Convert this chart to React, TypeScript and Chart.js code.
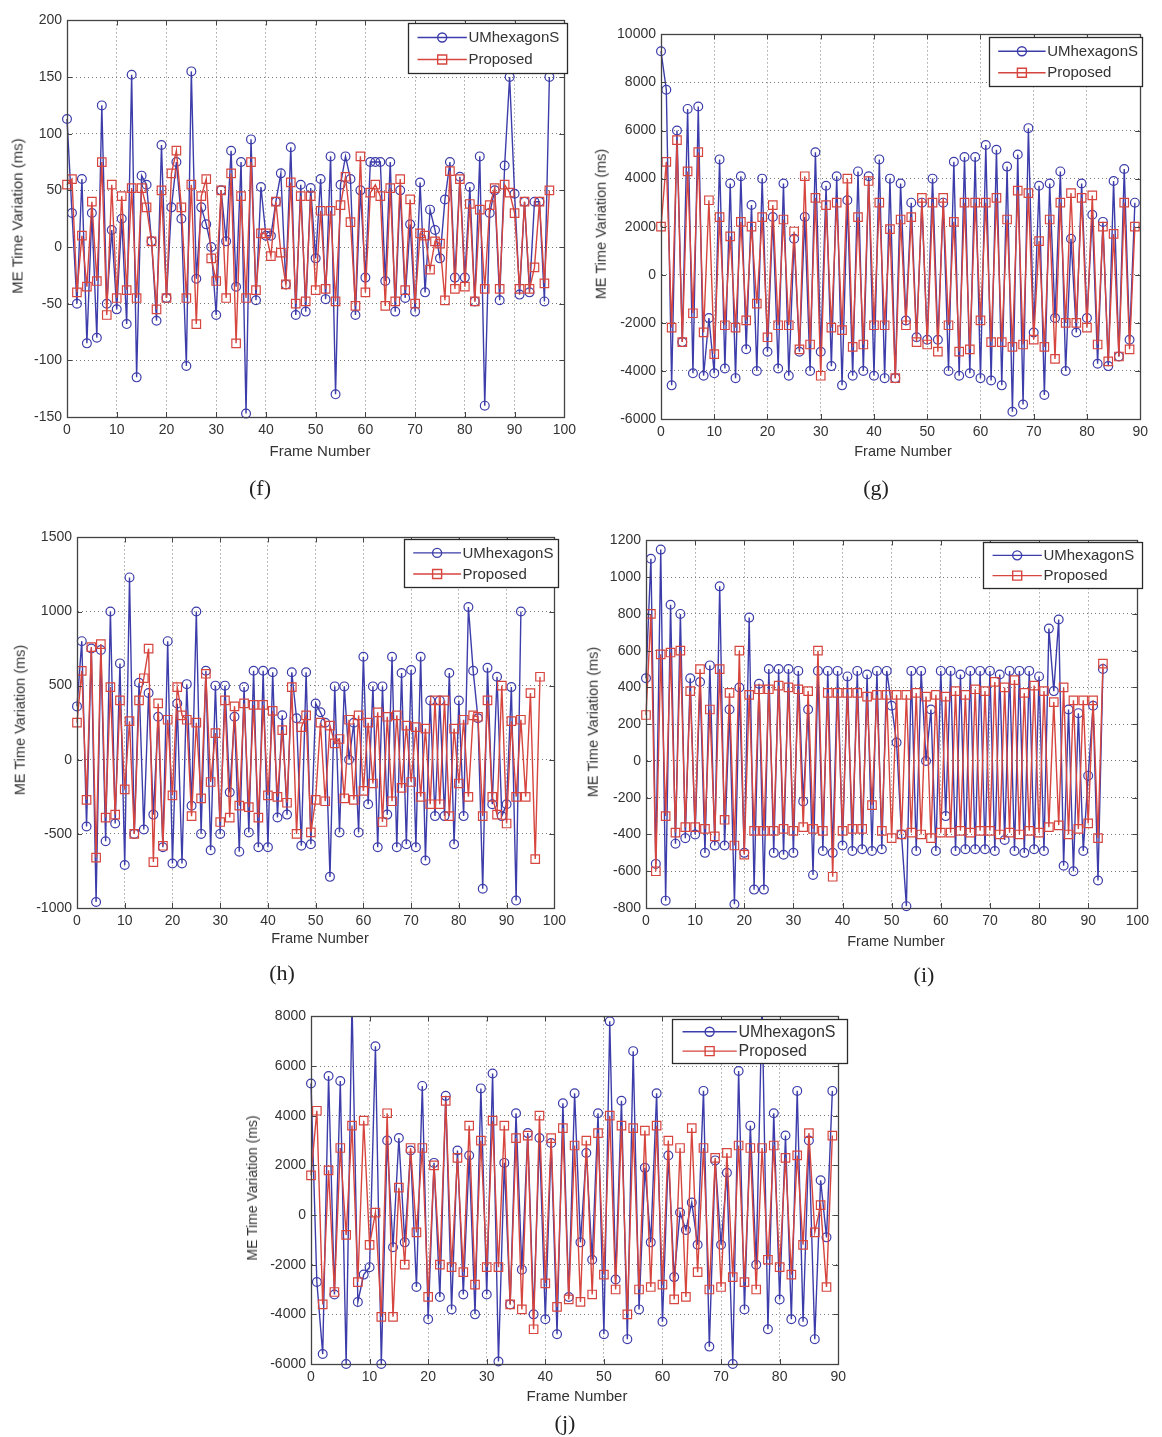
import React, { useEffect, useRef } from "react";
import { Chart, registerables } from "chart.js";
Chart.register(...registerables);

// ---------------- DATA ----------------
const seriesNames = ["UMhexagonS", "Proposed"];
const panelLabels = ["(f)", "(g)", "(h)", "(i)", "(j)"];
const xAxisTitle = "Frame Number";
const yAxisTitle = "ME Time Variation (ms)";

const fUMhexagonS = [
  113, 30, -50, 60, -85, 30, -80, 125, -50, 15,
  -55, 25, -68, 152, -115, 63, 55, 5, -65, 90,
  -45, 35, 75, 25, -105, 155, -28, 35, 20, 0,
  -60, 50, 5, 85, -35, 75, -147, 95, -47, 53,
  10, 10, 40, 65, -33, 88, -60, 55, -57, 52,
  -10, 60, -46, 80, -130, 55, 80, 60, -60, 50,
  -27, 75, 75, 75, -30, 75, -57, 50, -45, 20,
  -57, 57, -40, 33, 15, -10, 42, 75, -27, 62,
  -27, 53, -48, 80, -140, 30, 50, -47, 72, 150,
  47, -42, 40, -40, 40, 40, -48, 150,
];
const fProposed = [
  55, 60, -40, 10, -35, 40, -30, 75, -60, 55,
  -45, 45, -38, 52, -45, 52, 35, 5, -55, 50,
  -45, 65, 85, 35, -45, 55, -68, 45, 60, -10,
  -30, 50, -45, 65, -85, 45, -45, 75, -38, 12,
  12, -8, 40, -5, -33, 57, -50, 45, -48, 45,
  -38, 32, -37, 32, -48, 37, 62, 22, -52, 80,
  -40, 48, 55, 45, -52, 52, -48, 60, -38, 42,
  -50, 12, 10, -20, 5, 3, -47, 67, -37, 60,
  -35, 38, -48, 33, -37, 37, 52, -37, 55, 48,
  30, -37, 40, -37, -18, 40, -32, 50,
];

const gUMhexagonS = [
  9300, 7700, -4600, 6000, -2800, 6900, -4100, 7000, -4200, -1800,
  -4100, 4800, -3900, 3800, -4300, 4100, -3100, 2900, -4000, 4000,
  -3200, 2400, -3900, 3800, -4200, 1500, -3200, 2400, -4000, 5100,
  -3200, 3700, -3800, 4100, -4600, 3100, -4200, 4300, -4000, 4100,
  -4200, 4800, -4300, 4000, -4300, 3800, -1900, 3000, -2600, 3000,
  -2700, 4000, -2700, 3000, -4000, 4700, -4200, 4900, -4100, 4900,
  -4300, 5400, -4400, 5200, -4600, 4500, -5700, 5000, -5400, 6100,
  -2400, 3700, -5000, 3800, -1800, 4300, -4000, 1500, -2400, 3800,
  -1800, 2500, -3700, 2200, -3800, 3900, -3400, 4400, -2700, 3000,
];
const gProposed = [
  2000, 4700, -2200, 5600, -2800, 4300, -1600, 5100, -2400, 3100,
  -3300, 2400, -2100, 1600, -2200, 2200, -1900, 2000, -1200, 2400,
  -2600, 2900, -2100, 2300, -2100, 1800, -3100, 4100, -2900, 3200,
  -4200, 2900, -2200, 3000, -2300, 4000, -3000, 2400, -2900, 3900,
  -2100, 3000, -2100, 1900, -4300, 2300, -2100, 2400, -2800, 3200,
  -2900, 3000, -3200, 3200, -2100, 2200, -3200, 3000, -3100, 3000,
  -1900, 3000, -2800, 3200, -2800, 2300, -3000, 3500, -2900, 3400,
  -2700, 1400, -3000, 2300, -3500, 3000, -2000, 3400, -2000, 3200,
  -2200, 3300, -2900, 2000, -3600, 1700, -3400, 3000, -3100, 2000,
];

const hUMhexagonS = [
  360, 800, -450, 750, -960, 740, -550, 1000, -430, 650,
  -710, 1230, -500, 520, -470, 450, -370, 290, -590, 800,
  -700, 380, -700, 510, -310, 1000, -500, 600, -610, 500,
  -500, 500, -220, 290, -620, 490, -490, 600, -590, 600,
  -590, 590, -390, 300, -370, 590, 280, -580, 590, -570,
  380, 320, 250, -790, 495, -490, 495, 0, 250, -490,
  695, -300, 495, -590, 495, -370, 695, -590, 585, -570,
  605, -590, 695, -680, 400, -380, 400, -380, 585, -570,
  400, -380, 1030, 600, 280, -870, 620, -300, 560, -380,
  -300, 490, -950, 1000,
];
const hProposed = [
  250, 600, -270, 760, -660, 780, -390, 490, -370, 400,
  -200, 260, -500, 400, 550, 750, -690, 380, -580, 270,
  -240, 490, 300, 270, -380, 250, -260, 580, -150, 180,
  -420, 400, -390, 360, -310, 380, -320, 370, -390, 370,
  -240, 330, -250, 200, -290, 490, -500, 220, 300, -490,
  -270, 250, -280, 230, 110, 140, -260, 270, -270, 300,
  -210, 250, -160, 320, -420, 290, -280, 300, -190, 230,
  -150, 220, -250, 210, -300, 400, -300, 400, -380, 210,
  -160, 270, -250, 300, 290, -380, 400, -250, -370, 500,
  -430, 260, -250, 270, -250, 450, -670, 560,
];

const iUMhexagonS = [
  450, 1100, -560, 1150, -760, 850, -450, 800, -420, 450,
  -400, 430, -500, 520, -460, 950, -460, 280, -780, 400,
  -500, 780, -700, 420, -700, 500, -500, 500, -510, 500,
  -500, 490, -220, 280, -620, 490, -490, 490, -500, 490,
  -460, 460, -490, 490, -480, 470, -490, 490, -480, 490,
  300, 100, -400, -790, 490, -490, 490, 0, 280, -490,
  490, -300, 490, -490, 470, -480, 490, -480, 490, -480,
  490, -490, 470, -430, 490, -490, 490, -500, 490, -480,
  460, -490, 720, 380, 770, -570, 280, -600, 260, -490,
  -80, 300, -650, 500,
];
const iProposed = [
  250, 800, -600, 580, -300, 590, -390, 600, -360, 380,
  -360, 500, -370, 280, -410, 500, -320, 370, -460, 600,
  -510, 360, -380, 390, -380, 390, -380, 410, -370, 400,
  -380, 390, -360, 380, -370, 600, -380, 370, -630, 370,
  -380, 370, -370, 370, -370, 350, -240, 360, -380, 360,
  -420, 360, -400, 360, -390, 370, -400, 350, -420, 360,
  -390, 350, -390, 380, -380, 360, -390, 390, -380, 380,
  -380, 430, -400, 400, -390, 440, -400, 370, -380, 410,
  -390, 380, -360, 320, -350, 400, -400, 330, -370, 330,
  -340, 330, -420, 530,
];

const jUMhexagonS = [
  5300, -2700, -5600, 5600, -3200, 5400, -6000, 8600, -3500, -2400,
  -2100, 6800, -6000, 3000, -1300, 3100, -1100, 2600, -2900, 5200,
  -4200, 2100, -3300, 4800, -3800, 2600, -3200, 2400, -4000, 5100,
  -3200, 5700, -5900, 2100, -3600, 4100, -2200, 3300, -4000, 3100,
  -4200, 2900, -4800, 4500, -3300, 4900, -1100, 2500, -1800, 4100,
  -4800, 7800, -2600, 4600, -5000, 6600, -3800, 1900, -1100, 4900,
  -4300, 2400, -2500, 100, -600, 500, -1200, 5000, -5300, 2200,
  -1200, 1700, -6000, 5800, -3800, 3600, -2000, 8500, -4600, 4100,
  -3400, 3200, -4200, 5000, -4300, 3000, -5000, 1400, -900, 5000,
];
const jProposed = [
  1600, 4200, -3600, 1800, -3100, 2700, -800, 3600, -2700, 3800,
  -1200, 100, -4100, 4100, -4100, 1100, -2000, 2700, -700, 2700,
  -3300, 2000, -2000, 4600, -2100, 2300, -2300, 3600, -2800, 3000,
  -2100, 3800, -2100, 3600, -3600, 3100, -3800, 3200, -4600, 4000,
  -2750, 3100, -3700, 3500, -3400, 2800, -3500, 3000, -3200, 3300,
  -2400, 4000, -3000, 3600, -4000, 3500, -3000, 3400, -2900, 3600,
  -2800, 3000, -3400, 2700, -3300, 3500, -2300, 2700, -3000, 2300,
  -2900, 2500, -2500, 2800, -2700, 2700, -3000, 2700, -1800, 2800,
  -2100, 2300, -2400, 2400, -1200, 3300, -700, 400, -2900, 3200,
];

// axis ranges
const xMaxes = [100, 90, 100, 100, 90];
const yMins = [-150, -6000, -1000, -800, -6000];
const yMaxes = [200, 10000, 1500, 1200, 8000];
const ySteps = [50, 2000, 500, 200, 2000];
const xStep = 10;

// ---------------- STYLE / LAYOUT ----------------
const BLUE = "#3c3caa";
const RED = "#d6453e";
const AXIS = "#444444";
const TEXT = "#333333";
const SANS = "'Liberation Sans', Arial, sans-serif";
const SERIF = "'Liberation Serif', 'Times New Roman', serif";

const PADL = 62, PADT = 8, PADR = 8, PADB = 30;

type Geo = {
  left: number; top: number; width: number; height: number;
  legend: { x: number; y: number; w: number; h: number; fs: number };
  label: { x: number; y: number };
  yTitleX: number; yTitleFs: number; xTitleY: number; xTitleFs: number;
  tickFs: number; clipTop: number;
};

const geos: Geo[] = [
  { left: 67, top: 15, width: 506, height: 402, legend: { x: 408, y: 23, w: 159, h: 50, fs: 15 }, label: { x: 260, y: 488 }, yTitleX: 17, yTitleFs: 15, xTitleY: 450, xTitleFs: 15, tickFs: 14, clipTop: 5 },
  { left: 661, top: 29, width: 484, height: 390, legend: { x: 989, y: 37, w: 153, h: 49, fs: 15 }, label: { x: 876, y: 488 }, yTitleX: 601, yTitleFs: 14.5, xTitleY: 451, xTitleFs: 14.5, tickFs: 14, clipTop: 5 },
  { left: 77, top: 532, width: 486, height: 376, legend: { x: 404, y: 539, w: 154, h: 48, fs: 15 }, label: { x: 282, y: 973 }, yTitleX: 20, yTitleFs: 14.5, xTitleY: 938, xTitleFs: 14.5, tickFs: 14, clipTop: 5 },
  { left: 646, top: 535, width: 500, height: 373, legend: { x: 983, y: 542, w: 159, h: 46, fs: 15 }, label: { x: 924, y: 975 }, yTitleX: 593, yTitleFs: 14.5, xTitleY: 941, xTitleFs: 14.5, tickFs: 14, clipTop: 5 },
  { left: 311, top: 1011, width: 532, height: 353, legend: { x: 672, y: 1019, w: 175, h: 44, fs: 16 }, label: { x: 565, y: 1423 }, yTitleX: 252, yTitleFs: 14, xTitleY: 1395, xTitleFs: 15, tickFs: 14, clipTop: 0 },
];

const blues = [fUMhexagonS, gUMhexagonS, hUMhexagonS, iUMhexagonS, jUMhexagonS];
const reds = [fProposed, gProposed, hProposed, iProposed, jProposed];

const framePlugin = {
  id: "matlabFrame",
  afterDatasetsDraw(chart: any, _args: any, opts: any) {
    const { ctx, chartArea: a } = chart;
    const xs = chart.scales.x, ys = chart.scales.y;
    ctx.save();
    ctx.strokeStyle = AXIS;
    ctx.lineWidth = 1;
    // inward ticks
    const tl = 5;
    ctx.beginPath();
    xs.ticks.forEach((t: any) => {
      const px = Math.round(xs.getPixelForValue(t.value)) + 0.5;
      ctx.moveTo(px, a.bottom); ctx.lineTo(px, a.bottom - tl);
      ctx.moveTo(px, a.top); ctx.lineTo(px, a.top + tl);
    });
    ys.ticks.forEach((t: any) => {
      const py = Math.round(ys.getPixelForValue(t.value)) + 0.5;
      ctx.moveTo(a.left, py); ctx.lineTo(a.left + tl, py);
      ctx.moveTo(a.right, py); ctx.lineTo(a.right - tl, py);
    });
    ctx.stroke();
    ctx.lineWidth = 1.3;
    ctx.strokeRect(Math.round(a.left) + 0.5, Math.round(a.top) + 0.5, Math.round(a.width), Math.round(a.height));

    // legend box
    const L = opts.legend;
    const lx = L.x - opts.ox, ly = L.y - opts.oy;
    ctx.fillStyle = "#ffffff";
    ctx.fillRect(lx, ly, L.w, L.h);
    ctx.strokeStyle = "#2a2a2a";
    ctx.lineWidth = 1.3;
    ctx.strokeRect(lx + 0.5, ly + 0.5, L.w, L.h);
    const rows = [
      { name: opts.names[0], color: BLUE, style: "circle", y: ly + L.h * 0.29 },
      { name: opts.names[1], color: RED, style: "rect", y: ly + L.h * 0.73 },
    ];
    rows.forEach((r) => {
      const x0 = lx + L.w * 0.06, x1 = lx + L.w * 0.37, xm = lx + L.w * 0.215;
      ctx.strokeStyle = r.color;
      ctx.lineWidth = 1.4;
      ctx.beginPath(); ctx.moveTo(x0, r.y); ctx.lineTo(x1, r.y); ctx.stroke();
      ctx.beginPath();
      if (r.style === "circle") { ctx.arc(xm, r.y, 4.5, 0, Math.PI * 2); }
      else { ctx.rect(xm - 4.5, r.y - 4.5, 9, 9); }
      ctx.stroke();
      ctx.fillStyle = TEXT;
      ctx.font = `${L.fs}px ${SANS}`;
      ctx.textBaseline = "middle";
      ctx.textAlign = "left";
      ctx.fillText(r.name, lx + L.w * 0.38, r.y + 0.5);
    });
    ctx.restore();
  },
};

function Panel({ idx }: { idx: number }) {
  const ref = useRef<HTMLCanvasElement>(null);
  const g = geos[idx];
  const cw = g.width + PADL + PADR;
  const ch = g.height + PADT + PADB;
  const cl = g.left - PADL;
  const ct = g.top - PADT;
  useEffect(() => {
    const clip = { left: 6, right: 6, top: g.clipTop, bottom: 5 };
    const chart = new Chart(ref.current as HTMLCanvasElement, {
      type: "line",
      data: {
        datasets: [
          {
            label: seriesNames[1],
            data: reds[idx].map((y, i) => ({ x: i, y })),
            borderColor: RED,
            backgroundColor: "rgba(0,0,0,0)",
            borderWidth: 1.4,
            pointStyle: "rect",
            pointRadius: 6,
            pointBorderWidth: 1.2,
            pointBorderColor: RED,
            pointBackgroundColor: "rgba(0,0,0,0)",
            tension: 0,
            order: 0,
            clip,
          },
          {
            label: seriesNames[0],
            data: blues[idx].map((y, i) => ({ x: i, y })),
            borderColor: BLUE,
            backgroundColor: "rgba(0,0,0,0)",
            borderWidth: 1.4,
            pointStyle: "circle",
            pointRadius: 4.4,
            pointBorderWidth: 1.2,
            pointBorderColor: BLUE,
            pointBackgroundColor: "rgba(0,0,0,0)",
            tension: 0,
            order: 1,
            clip,
          },
        ],
      },
      options: {
        animation: false,
        responsive: false,
        devicePixelRatio: 1,
        events: [],
        layout: { padding: { left: 0, top: PADT, right: PADR, bottom: 0 } },
        plugins: {
          legend: { display: false },
          tooltip: { enabled: false },
          matlabFrame: { legend: g.legend, ox: cl, oy: ct, names: seriesNames },
        } as any,
        scales: {
          x: {
            type: "linear",
            min: 0,
            max: xMaxes[idx],
            afterFit: (s: any) => { s.height = PADB; },
            ticks: {
              stepSize: xStep,
              autoSkip: false,
              maxRotation: 0,
              padding: 5,
              color: TEXT,
              font: { family: SANS, size: g.tickFs },
              callback: (v: any) => String(v),
            },
            grid: { color: "#7a7a7a", lineWidth: 1, drawTicks: false },
            border: { display: true, color: AXIS, dash: [1, 3] },
          },
          y: {
            type: "linear",
            min: yMins[idx],
            max: yMaxes[idx],
            afterFit: (s: any) => { s.width = PADL; },
            ticks: {
              stepSize: ySteps[idx],
              autoSkip: false,
              padding: 5,
              color: TEXT,
              font: { family: SANS, size: g.tickFs },
              callback: (v: any) => String(v),
            },
            grid: { color: "#7a7a7a", lineWidth: 1, drawTicks: false },
            border: { display: true, color: AXIS, dash: [1, 3] },
          },
        },
      } as any,
      plugins: [framePlugin as any],
    });
    return () => chart.destroy();
  }, [idx]);

  const cx = g.left + g.width / 2;
  const cy = g.top + g.height / 2;
  const base: React.CSSProperties = { position: "absolute", whiteSpace: "nowrap", lineHeight: 1, color: TEXT };
  return (
    <>
      <canvas ref={ref} width={cw} height={ch} style={{ position: "absolute", left: cl, top: ct, width: cw, height: ch }} />
      <div style={{ ...base, left: g.yTitleX, top: cy, fontFamily: SANS, fontSize: g.yTitleFs, transform: "translate(-50%,-50%) rotate(-90deg)" }}>{yAxisTitle}</div>
      <div style={{ ...base, left: cx, top: g.xTitleY, fontFamily: SANS, fontSize: g.xTitleFs, transform: "translate(-50%,-50%)" }}>{xAxisTitle}</div>
      <div style={{ ...base, left: g.label.x, top: g.label.y, fontFamily: SERIF, fontSize: 22, color: "#222", transform: "translate(-50%,-50%)" }}>{panelLabels[idx]}</div>
    </>
  );
}

export default function App() {
  return (
    <div style={{ position: "absolute", left: 0, top: 0, width: 1162, height: 1437, background: "#fff", overflow: "hidden" }}>
      {geos.map((_, i) => <Panel key={i} idx={i} />)}
    </div>
  );
}
